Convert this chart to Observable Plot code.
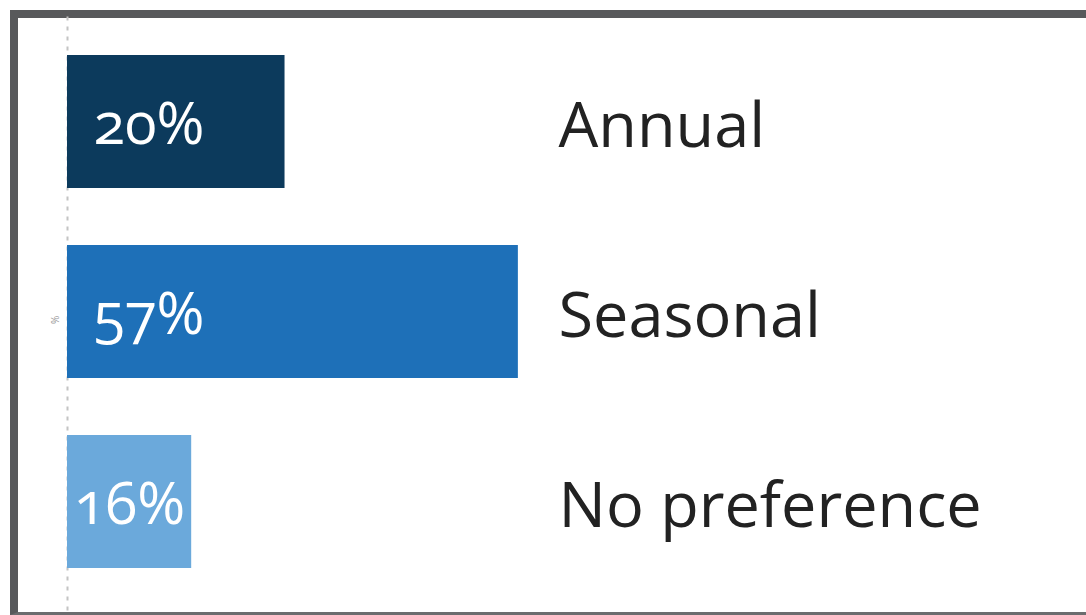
<!DOCTYPE html>
<html>
<head>
<meta charset="utf-8">
<script src="https://cdn.jsdelivr.net/npm/d3@7"></script>
<script src="https://cdn.jsdelivr.net/npm/@observablehq/plot@0.6"></script>
<style>
  html, body { margin: 0; padding: 0; background: #fff; overflow: hidden; }
  #wrap { position: relative; width: 1086px; height: 615px; overflow: hidden; }
  #frame { position: absolute; left: 10px; top: 10px; width: 1200px; height: 594px; border: 8px solid #58595b; border-bottom: 3px solid #6b6c6e; box-sizing: content-box; }
  #chart { position: absolute; left: 0; top: 0; line-height: 0; }
  svg { font-family: "Open Sans", sans-serif; font-variant-numeric: oldstyle-nums; }
</style>
</head>
<body>
<div id="wrap"><div id="frame"></div><div id="chart"></div></div>
<script>
const categories = ["Annual", "Seasonal", "No preference"];
const values = [27.5, 57, 15.7];
const valueLabels = ["20%", "57%", "16%"];
const colors = ["#0c3a5c", "#1e70b8", "#6ba9db"];
const axisLabel = "%";

const data = categories.map((c, i) => ({category: c, value: values[i], label: valueLabels[i]}));

const chart = Plot.plot({
  width: 1086,
  height: 615,
  marginLeft: 67,
  marginRight: 228,
  marginTop: 26.5,
  marginBottom: 18.5,
  style: {background: "transparent", fontFamily: "'Open Sans', sans-serif"},
  x: {domain: [0, 100], axis: null},
  y: {domain: categories, paddingInner: 0.3, paddingOuter: 0.15, axis: null},
  color: {domain: categories, range: colors},
  marks: [
    Plot.ruleX([0], {stroke: "#c4c4c4", strokeWidth: 2, strokeDasharray: "4,6", insetTop: -10, insetBottom: -20}),
    Plot.barX(data, {x: "value", y: "category", fill: "category"}),
    Plot.text(data, {x: d => Math.min(d.value / 2, 10.3), y: "category", text: "label", fill: "white", fontSize: 58, textAnchor: "middle", dy: 3}),
    Plot.text(data, {frameAnchor: "left", y: "category", text: "category", fill: "#222", fontSize: 63, textAnchor: "start", dx: 491, dy: 5}),
    Plot.text([axisLabel], {frameAnchor: "left", text: d => d, rotate: -90, fill: "#999", fontSize: 10, dx: -12, dy: 12})
  ]
});
document.getElementById("chart").appendChild(chart);
</script>
</body>
</html>
